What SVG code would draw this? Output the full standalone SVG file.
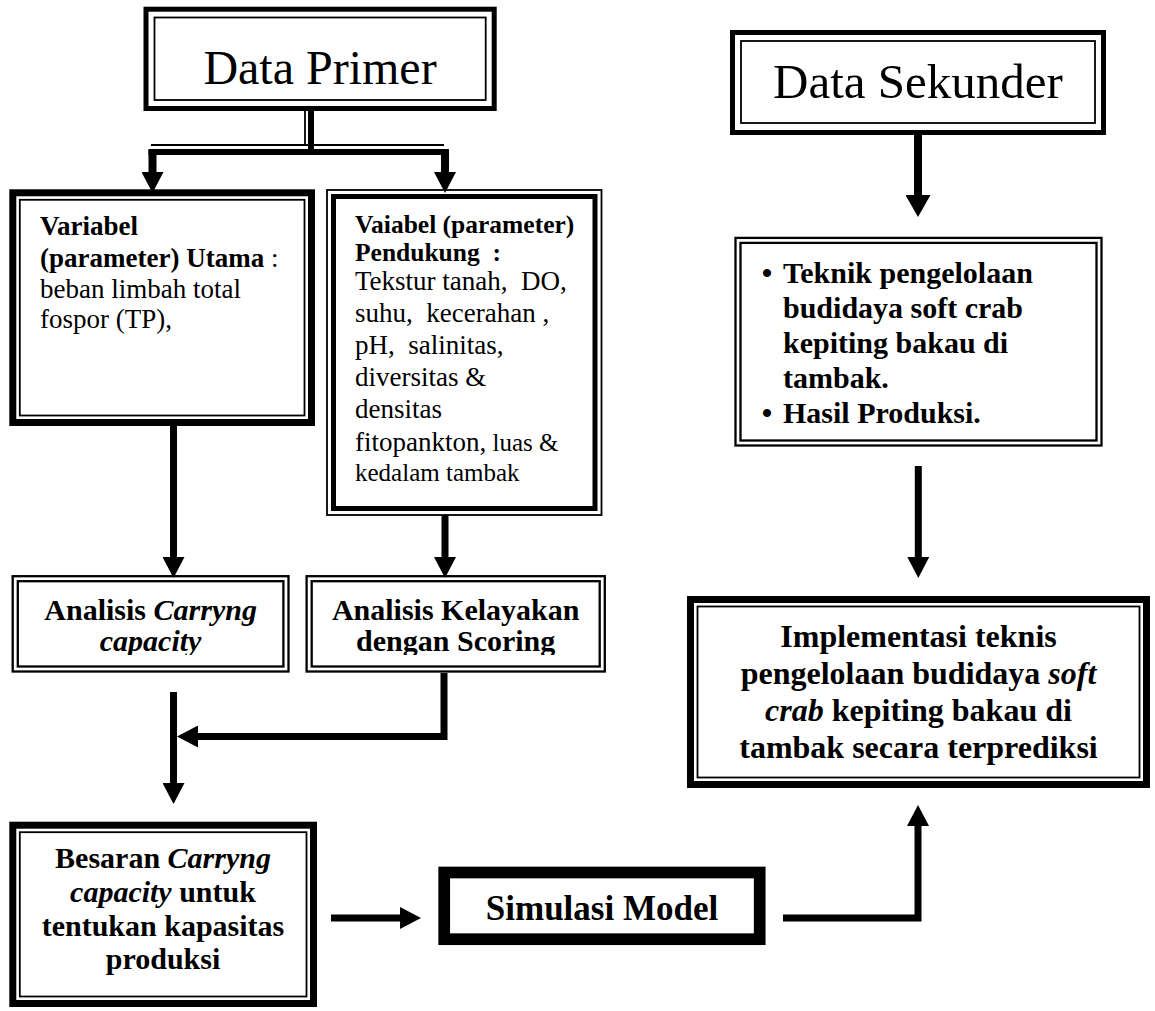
<svg xmlns="http://www.w3.org/2000/svg" width="1155" height="1011" viewBox="0 0 1155 1011">
<style>
text{font-family:'Liberation Serif','Times New Roman',serif;fill:#000}
.b{font-weight:bold}
.i{font-style:italic}
.thick{fill:none;stroke:#000;stroke-width:7}
.mid{fill:none;stroke:#000;stroke-width:5}
.thin{fill:none;stroke:#000;stroke-width:1.8}
.dbl{fill:none;stroke:#000;stroke-width:2.3}
.heavy{fill:none;stroke:#000;stroke-width:11.7}
.con{fill:none;stroke:#000;stroke-width:7;stroke-linejoin:miter}
.conw{fill:none;stroke:#000;stroke-width:8}
</style>
<defs>
<marker id="arr" markerUnits="userSpaceOnUse" markerWidth="21" markerHeight="22" refX="0" refY="11" orient="auto">
<path d="M0,0 L21,11 L0,22 z" fill="#000"/>
</marker>
<marker id="arrB" markerUnits="userSpaceOnUse" markerWidth="22" markerHeight="25" refX="0" refY="12.5" orient="auto">
<path d="M0,0 L22,12.5 L0,25 z" fill="#000"/>
</marker>
<clipPath id="clipA"><rect x="17" y="581" width="267" height="74"/></clipPath>
<clipPath id="clipB"><rect x="311" y="581" width="289" height="74"/></clipPath>
</defs>

<g id="connectors">
<line x1="305" y1="111" x2="305" y2="145" class="thin"/>
<line x1="311" y1="111" x2="311" y2="152" style="fill:none;stroke:#000;stroke-width:6"/>
<line x1="151" y1="145" x2="444" y2="145" class="thin"/>
<line x1="148.5" y1="152" x2="449" y2="152" style="fill:none;stroke:#000;stroke-width:6"/>
<path d="M152.5,150 V172" class="conw" marker-end="url(#arr)"/>
<path d="M445,150 V172" class="conw" marker-end="url(#arr)"/>
<path d="M918,135 V195" class="conw" marker-end="url(#arrB)"/>
<path d="M173.5,426 V557" class="con" marker-end="url(#arr)"/>
<path d="M445,515 V557" class="con" marker-end="url(#arr)"/>
<path d="M444,673 V736.5 H198" class="con" marker-end="url(#arr)"/>
<path d="M173.5,692 V783" class="con" marker-end="url(#arr)"/>
<path d="M331,918 H400" class="con" marker-end="url(#arr)"/>
<path d="M783,918 H918 V826" class="con" marker-end="url(#arr)"/>
<path d="M918.3,466 V557" class="con" marker-end="url(#arr)"/>
</g>

<g id="data-primer">
<rect x="146" y="9.2" width="348.2" height="99.3" class="mid"/>
<rect x="154.5" y="17.5" width="331.2" height="82.5" class="thin"/>
<text x="320" y="84" font-size="48" text-anchor="middle">Data Primer</text>
</g>

<g id="data-sekunder">
<rect x="732.5" y="32.5" width="371" height="100" class="mid"/>
<rect x="741" y="41" width="354" height="82" class="thin"/>
<text x="918" y="98" font-size="49" text-anchor="middle">Data Sekunder</text>
</g>

<g id="variabel-utama">
<rect x="12.8" y="192.8" width="298.7" height="229.7" class="thick"/>
<rect x="19.8" y="199.8" width="284.7" height="215.7" class="thin"/>
<text x="40" y="235" font-size="27" class="b">Variabel</text>
<text x="40" y="266.7" font-size="27"><tspan class="b">(parameter) Utama</tspan> :</text>
<text x="40" y="298" font-size="27">beban limbah total</text>
<text x="40" y="328" font-size="27">fospor (TP),</text>
</g>

<g id="variabel-pendukung">
<rect x="327" y="190" width="274.5" height="325" class="thin"/>
<rect x="333.5" y="196.5" width="261.5" height="312" class="mid"/>
<text x="355" y="233" font-size="25.5" class="b">Vaiabel (parameter)</text>
<text x="355" y="261" font-size="25.5" class="b" xml:space="preserve">Pendukung  :</text>
<text x="355" y="290" font-size="27" xml:space="preserve">Tekstur tanah,  DO,</text>
<text x="355" y="322" font-size="27" xml:space="preserve">suhu,  kecerahan ,</text>
<text x="355" y="354" font-size="27" xml:space="preserve">pH,  salinitas,</text>
<text x="355" y="386" font-size="27">diversitas &amp;</text>
<text x="355" y="418" font-size="27">densitas</text>
<text x="355" y="451" font-size="27">fitopankton,<tspan font-size="25"> luas &amp;</tspan></text>
<text x="355" y="481" font-size="25">kedalam tambak</text>
</g>

<g id="teknik">
<rect x="735.5" y="237.9" width="366" height="207.6" class="dbl"/>
<rect x="740.5" y="242.9" width="356" height="197.6" class="dbl"/>
<text x="767" y="283" font-size="30" class="b" text-anchor="middle">•</text>
<text x="783" y="283" font-size="30" class="b">Teknik pengelolaan</text>
<text x="783" y="318" font-size="30" class="b">budidaya soft crab</text>
<text x="783" y="353" font-size="30" class="b">kepiting bakau di</text>
<text x="783" y="388" font-size="30" class="b">tambak.</text>
<text x="767" y="423" font-size="30" class="b" text-anchor="middle">•</text>
<text x="783" y="423" font-size="30" class="b">Hasil Produksi.</text>
</g>

<g id="analisis-carryng">
<rect x="12.7" y="576.2" width="275.8" height="95.3" class="dbl"/>
<rect x="17.8" y="581.2" width="265.6" height="85.3" class="dbl"/>
<g clip-path="url(#clipA)">
<text x="150.6" y="620" font-size="30" class="b" text-anchor="middle">Analisis <tspan class="i">Carryng</tspan></text>
<text x="150.6" y="651" font-size="30" class="b i" text-anchor="middle">capacity</text>
</g>
</g>

<g id="analisis-kelayakan">
<rect x="306.6" y="576.2" width="298.2" height="95.3" class="dbl"/>
<rect x="311.7" y="581.2" width="288" height="85.3" class="dbl"/>
<g clip-path="url(#clipB)">
<text x="455.7" y="620" font-size="30" class="b" text-anchor="middle">Analisis Kelayakan</text>
<text x="455.7" y="651" font-size="30" class="b" text-anchor="middle">dengan Scoring</text>
</g>
</g>

<g id="implementasi">
<rect x="690.5" y="599.5" width="456" height="185" class="thick"/>
<rect x="697.5" y="606.5" width="442" height="171" class="thin"/>
<text x="918.5" y="647" font-size="32" class="b" text-anchor="middle">Implementasi teknis</text>
<text x="918.5" y="684" font-size="32" class="b" text-anchor="middle">pengelolaan budidaya <tspan class="i">soft</tspan></text>
<text x="918.5" y="721" font-size="32" class="b" text-anchor="middle"><tspan class="i">crab</tspan> kepiting bakau di</text>
<text x="918.5" y="758" font-size="32" class="b" text-anchor="middle">tambak secara terprediksi</text>
</g>

<g id="besaran">
<rect x="12.8" y="825.2" width="300.7" height="178.3" class="thick"/>
<rect x="19.8" y="832.2" width="286.7" height="164.3" class="thin"/>
<text x="163" y="868" font-size="30" class="b" text-anchor="middle">Besaran <tspan class="i">Carryng</tspan></text>
<text x="163" y="902" font-size="30" class="b" text-anchor="middle"><tspan class="i">capacity</tspan> untuk</text>
<text x="163" y="935.5" font-size="30" class="b" text-anchor="middle">tentukan kapasitas</text>
<text x="163" y="969" font-size="30" class="b" text-anchor="middle">produksi</text>
</g>

<g id="simulasi">
<rect x="444.2" y="872.5" width="315.5" height="66.7" class="heavy"/>
<text x="602" y="920" font-size="35" class="b" text-anchor="middle">Simulasi Model</text>
</g>
</svg>
